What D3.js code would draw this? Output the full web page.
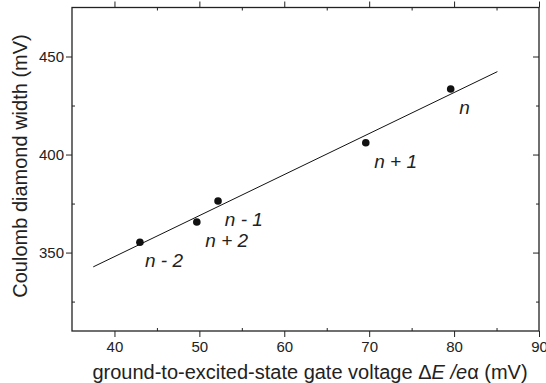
<!DOCTYPE html>
<html><head><meta charset="utf-8">
<script src="https://cdn.jsdelivr.net/npm/d3@7"></script>
<style>body{margin:0;background:#fff}svg{display:block}svg text{font-family:"Liberation Sans",Arial,Helvetica,sans-serif}</style>
</head><body><svg id="c" width="546" height="383"></svg>
<script>
const pointX = [43.0, 49.7, 52.2, 69.6, 79.6];
const pointY = [355.3, 365.6, 376.3, 406.0, 433.4];
const fitX = [37.5, 85.1];
const fitY = [342.7, 442.3];
const labelText = ["n - 2", "n + 2", "n - 1", "n + 1", "n"];
const labelX = [43.6, 50.7, 53.0, 70.6, 80.6];
const labelY = [342.7, 352.9, 363.4, 393.3, 420.8];
const xTicks = [40, 50, 60, 70, 80, 90];
const xMinor = [45, 55, 65, 75, 85];
const yTicks = [350, 400, 450];
const yMinor = [325, 375, 425];

const svg = d3.select("#c");
const L = 72, R = 539, T = 7.5, B = 331;
const x = d3.scaleLinear().domain([35, 90]).range([L, R]);
const y = d3.scaleLinear().domain([310, 475]).range([B, T]);
const col = "#222";

svg.append("g").attr("transform", `translate(0,${B})`)
  .call(d3.axisBottom(x).tickValues(xTicks).tickSize(6).tickPadding(4).tickFormat(d3.format("d")));
svg.append("g").attr("transform", `translate(0,${T})`)
  .call(d3.axisBottom(x).tickValues(xTicks).tickSize(-6).tickFormat(""));
svg.append("g").attr("transform", `translate(${L},0)`)
  .call(d3.axisLeft(y).tickValues(yTicks).tickSize(6).tickPadding(2).tickFormat(d3.format("d")));
svg.append("g").attr("transform", `translate(${R},0)`)
  .call(d3.axisLeft(y).tickValues(yTicks).tickSize(6).tickFormat(""));
svg.append("g").attr("transform", `translate(0,${B})`).call(d3.axisTop(x).tickValues(xMinor).tickSize(3).tickFormat(""));
svg.append("g").attr("transform", `translate(0,${T})`).call(d3.axisBottom(x).tickValues(xMinor).tickSize(3).tickFormat(""));
svg.append("g").attr("transform", `translate(${L},0)`).call(d3.axisRight(y).tickValues(yMinor).tickSize(3).tickFormat(""));
svg.append("g").attr("transform", `translate(${R},0)`).call(d3.axisLeft(y).tickValues(yMinor).tickSize(3).tickFormat(""));

svg.selectAll(".domain").remove();
svg.selectAll("g").attr("font-family", null).attr("font-size", null);
svg.selectAll(".tick line").attr("stroke", col).attr("stroke-width", 1);
svg.selectAll(".tick text").attr("fill", col).style("font-size", "15px");

svg.append("rect").attr("x", L).attr("y", T).attr("width", R - L).attr("height", B - T)
  .attr("fill", "none").attr("stroke", col).attr("stroke-width", 1.3);

svg.append("line").attr("x1", x(fitX[0])).attr("y1", y(fitY[0])).attr("x2", x(fitX[1])).attr("y2", y(fitY[1]))
  .attr("stroke", "#111").attr("stroke-width", 1);

svg.selectAll("circle.p").data(pointX).enter().append("circle").attr("class", "p")
  .attr("cx", (d) => x(d)).attr("cy", (d, i) => y(pointY[i])).attr("r", 3.8).attr("fill", "#111");

svg.selectAll("text.lab").data(labelText).enter().append("text").attr("class", "lab")
  .attr("x", (d, i) => x(labelX[i])).attr("y", (d, i) => y(labelY[i]))
  .attr("fill", col).style("font-size", "19px").style("font-style", "italic")
  .attr("xml:space", "preserve").text(d => d);

const xt = svg.append("text").attr("x", 310).attr("y", 379).attr("text-anchor", "middle")
  .attr("fill", col).style("font-size", "20px");
xt.append("tspan").text("ground-to-excited-state gate voltage Δ");
xt.append("tspan").style("font-style", "italic").text("E");
xt.append("tspan").style("font-style", "italic").text(" /e");
xt.append("tspan").text("α (mV)");

svg.append("text").attr("transform", "translate(27,166) rotate(-90)").attr("text-anchor", "middle")
  .attr("fill", col).style("font-size", "20px").text("Coulomb diamond width (mV)");
</script></body></html>
